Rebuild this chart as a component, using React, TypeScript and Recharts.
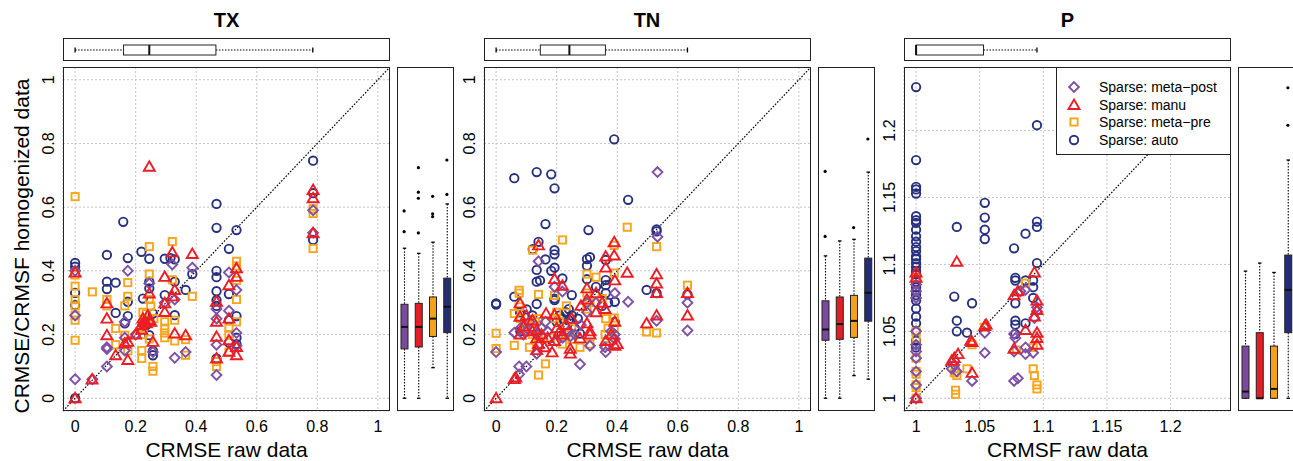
import React from "react";
import {
  ScatterChart,
  Scatter,
  XAxis,
  YAxis,
  CartesianGrid,
  ReferenceLine,
  ComposedChart,
  Bar,
  Legend,
} from "recharts";

type Pt = [number, number];

// ---------- TX ----------
const txAuto: Pt[] = [
  [0, 0.425], [0, 0.413], [0, 0.331], [0, 0.292], [0, 0], [0.105, 0.45], [0.105, 0.366], [0.105, 0.343],
  [0.134, 0.363], [0.134, 0.268], [0.159, 0.554], [0.174, 0.44], [0.174, 0.303], [0.174, 0.258], [0.164, 0.235],
  [0.219, 0.46], [0.224, 0.313], [0.245, 0.438], [0.245, 0.366], [0.245, 0.345], [0.245, 0.198], [0.257, 0.266],
  [0.257, 0.149], [0.257, 0.135], [0.296, 0.438], [0.296, 0.324], [0.329, 0.436], [0.329, 0.366], [0.329, 0.261],
  [0.365, 0.34], [0.387, 0.39], [0.467, 0.61], [0.467, 0.535], [0.467, 0.4], [0.467, 0.38], [0.467, 0.336],
  [0.467, 0.308], [0.467, 0.29], [0.467, 0.125], [0.508, 0.469], [0.508, 0.327], [0.508, 0.245], [0.508, 0.175],
  [0.533, 0.528], [0.533, 0.258], [0.533, 0.19], [0.533, 0.17], [0.786, 0.746], [0.786, 0.644], [0.786, 0.497],
  [0.315, 0.44], [0.235, 0.23],
];
const txPre: Pt[] = [
  [0, 0.633], [0, 0.387], [0, 0.352], [0, 0.31], [0, 0.29], [0, 0.26], [0, 0.245], [0, 0.182], [0.057, 0.334],
  [0.105, 0.31], [0.105, 0.29], [0.134, 0.219], [0.134, 0.168], [0.164, 0.29], [0.164, 0.198], [0.174, 0.363],
  [0.174, 0.32], [0.174, 0.149], [0.22, 0.15], [0.22, 0.125], [0.224, 0.27], [0.224, 0.2], [0.224, 0.22],
  [0.245, 0.476], [0.245, 0.39], [0.245, 0.31], [0.245, 0.186], [0.235, 0.265], [0.257, 0.1], [0.257, 0.085],
  [0.296, 0.24], [0.296, 0.22], [0.296, 0.19], [0.296, 0.205], [0.321, 0.492], [0.321, 0.372], [0.329, 0.245],
  [0.329, 0.18], [0.365, 0.184], [0.365, 0.135], [0.387, 0.32], [0.467, 0.1], [0.467, 0.115], [0.508, 0.22],
  [0.508, 0.145], [0.508, 0.2], [0.533, 0.43], [0.533, 0.415], [0.533, 0.37], [0.533, 0.31], [0.533, 0.24],
  [0.786, 0.595], [0.786, 0.58], [0.786, 0.47], [0.23, 0.24], [0.25, 0.29], [0.26, 0.25],
];
const txPost: Pt[] = [
  [0, 0.06], [0, 0.26], [0, 0.4], [0.057, 0.06], [0.105, 0.1], [0.105, 0.16], [0.105, 0.155], [0.174, 0.4],
  [0.164, 0.24], [0.164, 0.19], [0.164, 0.15], [0.245, 0.36], [0.245, 0.24], [0.257, 0.145], [0.224, 0.23],
  [0.329, 0.127], [0.329, 0.31], [0.321, 0.42], [0.365, 0.145], [0.387, 0.41], [0.467, 0.073], [0.467, 0.168],
  [0.467, 0.25], [0.467, 0.28], [0.508, 0.275], [0.508, 0.395], [0.533, 0.34], [0.533, 0.205], [0.533, 0.165],
  [0.786, 0.59], [0.786, 0.52], [0.296, 0.3], [0.2, 0.2],
];
const txManu: Pt[] = [
  [0, 0], [0, 0.395], [0.056, 0.059], [0.105, 0.298], [0.105, 0.25], [0.105, 0.198], [0.134, 0.135],
  [0.164, 0.172], [0.174, 0.12], [0.174, 0.177], [0.2, 0.2], [0.219, 0.23], [0.224, 0.25], [0.235, 0.235],
  [0.245, 0.727], [0.245, 0.329], [0.245, 0.245], [0.257, 0.177], [0.296, 0.381], [0.296, 0.298], [0.296, 0.271],
  [0.321, 0.458], [0.321, 0.32], [0.329, 0.34], [0.329, 0.203], [0.365, 0.198], [0.387, 0.453], [0.467, 0.303],
  [0.467, 0.24], [0.467, 0.193], [0.467, 0.125], [0.508, 0.355], [0.508, 0.182], [0.508, 0.146], [0.508, 0.25],
  [0.533, 0.408], [0.533, 0.381], [0.533, 0.161], [0.533, 0.135], [0.786, 0.654], [0.786, 0.628], [0.786, 0.518],
  [0.22, 0.215], [0.23, 0.24], [0.24, 0.26], [0.25, 0.24],
];
// raw box: lo, q1, median, q3, hi
const txRawBox = [0, 0.16, 0.245, 0.465, 0.785];
// homogenized boxes (meta-post, manu, meta-pre, auto)
const txBoxes = [
  [0, 0.155, 0.224, 0.295, 0.471],
  [0, 0.161, 0.224, 0.298, 0.455],
  [0.096, 0.194, 0.25, 0.318, 0.49],
  [0, 0.206, 0.287, 0.377, 0.61],
];
const txOutliers: Pt[] = [
  [1, 0.588], [1, 0.523], [2, 0.724], [2, 0.647], [2, 0.628], [2, 0.519],
  [3, 0.634], [3, 0.579], [3, 0.57], [4, 0.748], [4, 0.64],
];

// ---------- TN ----------
const tnAuto: Pt[] = [
  [0, 0.298], [0, 0.294], [0.06, 0.691], [0.06, 0.319], [0.079, 0.27], [0.101, 0.279], [0.121, 0.468],
  [0.134, 0.71], [0.14, 0.491], [0.134, 0.403], [0.134, 0.366], [0.145, 0.37], [0.134, 0.296], [0.163, 0.547],
  [0.163, 0.436], [0.182, 0.703], [0.193, 0.659], [0.193, 0.465], [0.193, 0.452], [0.193, 0.41], [0.182, 0.4],
  [0.193, 0.313], [0.193, 0.308], [0.219, 0.376], [0.25, 0.324], [0.24, 0.28], [0.24, 0.245], [0.277, 0.203],
  [0.305, 0.528], [0.3, 0.437], [0.31, 0.443], [0.3, 0.416], [0.3, 0.374], [0.33, 0.35], [0.362, 0.434],
  [0.362, 0.371], [0.362, 0.355], [0.362, 0.33], [0.392, 0.303], [0.392, 0.24], [0.39, 0.813], [0.436, 0.623],
  [0.497, 0.34], [0.53, 0.53], [0.53, 0.524], [0.53, 0.33], [0.632, 0.326], [0.08, 0.21], [0.21, 0.26],
  [0.23, 0.27], [0.1, 0.22], [0.12, 0.26], [0.2, 0.24], [0.22, 0.25], [0.25, 0.26], [0.27, 0.25], [0.26, 0.22],
  [0.35, 0.29], [0.37, 0.3],
];
const tnPre: Pt[] = [
  [0, 0.204], [0, 0.156], [0.06, 0.166], [0.06, 0.266], [0.076, 0.339], [0.076, 0.33], [0.076, 0.287],
  [0.121, 0.465], [0.14, 0.326], [0.14, 0.073], [0.14, 0.25], [0.163, 0.108], [0.193, 0.323], [0.193, 0.25],
  [0.219, 0.497], [0.232, 0.29], [0.219, 0.17], [0.277, 0.16], [0.3, 0.39], [0.3, 0.33], [0.31, 0.17],
  [0.33, 0.38], [0.35, 0.313], [0.362, 0.25], [0.362, 0.165], [0.39, 0.48], [0.39, 0.393], [0.39, 0.252],
  [0.433, 0.537], [0.53, 0.476], [0.53, 0.205], [0.497, 0.208], [0.632, 0.355], [0.1, 0.23], [0.18, 0.19],
  [0.25, 0.22], [0.11, 0.16], [0.08, 0.25], [0.09, 0.22], [0.12, 0.2], [0.13, 0.24], [0.2, 0.27], [0.21, 0.24],
  [0.23, 0.2], [0.25, 0.185], [0.3, 0.28], [0.31, 0.3], [0.36, 0.2], [0.37, 0.22], [0.39, 0.22], [0.14, 0.19],
];
const tnPost: Pt[] = [
  [0, 0.145], [0.06, 0.206], [0.076, 0.1], [0.1, 0.1], [0.076, 0.075], [0.14, 0.43], [0.134, 0.2], [0.134, 0.14],
  [0.163, 0.24], [0.193, 0.35], [0.219, 0.335], [0.245, 0.195], [0.277, 0.107], [0.3, 0.27], [0.3, 0.3],
  [0.31, 0.165], [0.33, 0.3], [0.362, 0.145], [0.392, 0.33], [0.392, 0.2], [0.392, 0.186], [0.436, 0.303],
  [0.533, 0.71], [0.533, 0.507], [0.53, 0.243], [0.632, 0.3], [0.632, 0.213], [0.08, 0.22], [0.2, 0.18],
  [0.26, 0.2], [0.09, 0.2], [0.1, 0.21], [0.15, 0.22], [0.17, 0.21], [0.22, 0.19], [0.24, 0.21], [0.28, 0.23],
  [0.36, 0.16], [0.38, 0.21], [0.11, 0.24],
];
const tnManu: Pt[] = [
  [0, 0], [0.06, 0.06], [0.079, 0.298], [0.079, 0.256], [0.079, 0.2], [0.1, 0.26], [0.14, 0.48], [0.134, 0.214],
  [0.134, 0.188], [0.134, 0.151], [0.165, 0.266], [0.193, 0.374], [0.193, 0.262], [0.193, 0.18], [0.219, 0.353],
  [0.185, 0.144], [0.245, 0.155], [0.245, 0.14], [0.277, 0.188], [0.3, 0.235], [0.31, 0.21], [0.31, 0.2],
  [0.3, 0.345], [0.33, 0.27], [0.362, 0.445], [0.362, 0.41], [0.35, 0.3], [0.362, 0.18], [0.39, 0.49],
  [0.39, 0.448], [0.392, 0.37], [0.392, 0.24], [0.392, 0.165], [0.433, 0.394], [0.497, 0.235], [0.53, 0.389],
  [0.53, 0.36], [0.53, 0.33], [0.53, 0.26], [0.632, 0.33], [0.632, 0.26], [0.21, 0.21], [0.23, 0.23],
  [0.16, 0.16], [0.12, 0.245], [0.33, 0.33], [0.065, 0.065], [0.09, 0.225], [0.12, 0.21], [0.15, 0.2],
  [0.17, 0.19], [0.2, 0.22], [0.22, 0.2], [0.25, 0.25], [0.28, 0.29], [0.3, 0.31], [0.36, 0.28], [0.38, 0.2],
  [0.4, 0.17], [0.14, 0.17],
];
const tnRawBox = [0, 0.146, 0.242, 0.361, 0.632];
const tnBoxes = [
  [0, 0.182, 0.216, 0.306, 0.447],
  [0, 0.185, 0.233, 0.318, 0.494],
  [0.071, 0.191, 0.243, 0.323, 0.499],
  [0.06, 0.242, 0.331, 0.44, 0.71],
];
const tnOutliers: Pt[] = [[1, 0.508], [1, 0.712], [3, 0.536], [4, 0.814]];

// ---------- P ----------
const pAuto: Pt[] = [
  [1, 1.2325], [1, 1.178], [1, 1.158], [1, 1.156], [1, 1.153], [1, 1.136], [1, 1.133], [1, 1.131], [1, 1.126],
  [1, 1.121], [1, 1.117], [1, 1.113], [1, 1.11], [1, 1.106], [1, 1.104], [1, 1.101], [1, 1.098], [1, 1.095],
  [1, 1.093], [1, 1.09], [1, 1.087], [1, 1.083], [1, 1.08], [1, 1.077], [1, 1.073], [1, 1.067], [1, 1.061],
  [1, 1.056], [1, 1.05], [1, 1.043], [1, 1.038],
  [1.032, 1.128], [1.03, 1.076], [1.032, 1.058], [1.032, 1.05], [1.044, 1.071], [1.04, 1.049], [1.054, 1.146],
  [1.054, 1.135], [1.054, 1.126], [1.054, 1.119], [1.077, 1.112], [1.086, 1.123], [1.095, 1.204], [1.095, 1.132],
  [1.095, 1.128], [1.095, 1.101], [1.078, 1.09], [1.078, 1.088], [1.078, 1.071], [1.078, 1.058], [1.078, 1.055],
  [1.078, 1.048], [1.086, 1.088], [1.086, 1.056], [1.092, 1.088], [1.092, 1.083], [1.092, 1.075],
];
const pPre: Pt[] = [
  [1, 1.09], [1, 1.05], [1, 1.045], [1, 1.03], [1, 1.02], [1, 1.018], [1, 1.01], [1, 1.008], [1, 1.0],
  [1.03, 1.019], [1.032, 1.017], [1.031, 1.022], [1.031, 1.006], [1.031, 1.003], [1.04, 1.022], [1.044, 1.04],
  [1.079, 1.036], [1.086, 1.086], [1.092, 1.038], [1.092, 1.022], [1.093, 1.017], [1.095, 1.01], [1.095, 1.007],
  [1.054, 1.053],
];
const pPost: Pt[] = [
  [1, 1.085], [1, 1.08], [1, 1.075], [1, 1.05], [1, 1.04], [1, 1.035], [1, 1.03], [1, 1.02], [1, 1.01], [1, 1.0],
  [1.028, 1.022], [1.03, 1.025], [1.032, 1.02], [1.044, 1.013], [1.054, 1.049], [1.054, 1.034], [1.077, 1.013],
  [1.08, 1.015], [1.077, 1.035], [1.077, 1.048], [1.078, 1.045], [1.082, 1.08], [1.086, 1.081], [1.086, 1.038],
  [1.086, 1.033], [1.095, 1.065], [1.095, 1.068], [1.093, 1.06], [1.092, 1.034],
];
const pManu: Pt[] = [
  [1, 1.0], [1, 1.094], [1, 1.09], [1.032, 1.102], [1.028, 1.028], [1.03, 1.03], [1.033, 1.033], [1.043, 1.043],
  [1.044, 1.042], [1.054, 1.054], [1.055, 1.055], [1.044, 1.019], [1.077, 1.077], [1.08, 1.08], [1.077, 1.037],
  [1.086, 1.051], [1.093, 1.094], [1.095, 1.073], [1.095, 1.066], [1.093, 1.061], [1.095, 1.049], [1.095, 1.045],
  [1.095, 1.04],
];
const pRawBox = [1, 1, 1, 1.053, 1.095];
const pBoxes = [
  [1, 1, 1.005, 1.039, 1.095],
  [1, 1, 1.0, 1.049, 1.101],
  [1, 1, 1.007, 1.039, 1.094],
  [1, 1.049, 1.081, 1.107, 1.178],
];
const pOutliers: Pt[] = [[4, 1.204], [4, 1.232]];

const unitTicks = [0, 0.2, 0.4, 0.6, 0.8, 1];
const pTicks = [1, 1.05, 1.1, 1.15, 1.2];

const FONT = "'Liberation Sans', Arial, Helvetica, sans-serif";
const COLORS = { post: "#7e50a6", manu: "#ec1d25", pre: "#f7a51c", auto: "#27307f" };
const BOX_FILLS = ["#7b4a9f", "#e21f26", "#f6a11a", "#252c77"];

const SERIES = [
  { key: "auto", name: "Sparse: auto", color: COLORS.auto, kind: "circle" },
  { key: "pre", name: "Sparse: meta\u2212pre", color: COLORS.pre, kind: "square" },
  { key: "post", name: "Sparse: meta\u2212post", color: COLORS.post, kind: "diamond" },
  { key: "manu", name: "Sparse: manu", color: COLORS.manu, kind: "triangle" },
];
const LEGEND_ORDER = ["post", "manu", "pre", "auto"];

const PLOT_TOP = 67;
const PLOT_W = 327;
const PLOT_H = 344;
const XH = 50;

const Marker = ({ kind, cx, cy, color }: any) => {
  if (cx == null || cy == null) return null;
  const sw = 1.9;
  if (kind === "circle") return <circle cx={cx} cy={cy} r={4.2} fill="none" stroke={color} strokeWidth={sw} />;
  if (kind === "square")
    return <rect x={cx - 3.6} y={cy - 3.6} width={7.2} height={7.2} fill="none" stroke={color} strokeWidth={sw} />;
  if (kind === "diamond") {
    const r = 4.9;
    return (
      <path d={`M${cx},${cy - r}L${cx + r},${cy}L${cx},${cy + r}L${cx - r},${cy}Z`} fill="none" stroke={color} strokeWidth={sw} />
    );
  }
  return (
    <path d={`M${cx},${cy - 5.4}L${cx + 5.5},${cy + 4}L${cx - 5.5},${cy + 4}Z`} fill="none" stroke={color} strokeWidth={sw} />
  );
};

const fmt = (v: number) => String(Number(v.toFixed(2)));

// vertical box (right panels), drawn from the bar that spans q1..q3
const VBox = (props: any) => {
  const { x, y, width, height, payload } = props;
  const [lo, q1, med, q3, hi] = payload.stats;
  const top = Math.min(y, y + height);
  const h = Math.abs(height);
  const ppu = h / (q3 - q1);
  const py = (v: number) => top + (q3 - v) * ppu;
  const cx = x + width / 2;
  const cap = width / 4;
  return (
    <g>
      <line x1={cx} x2={cx} y1={py(hi)} y2={top} stroke="#000" strokeWidth={1.1} strokeDasharray="1.5 1.5" />
      <line x1={cx} x2={cx} y1={top + h} y2={py(lo)} stroke="#000" strokeWidth={1.1} strokeDasharray="1.5 1.5" />
      <line x1={cx - cap} x2={cx + cap} y1={py(hi)} y2={py(hi)} stroke="#000" strokeWidth={1.3} />
      <line x1={cx - cap} x2={cx + cap} y1={py(lo)} y2={py(lo)} stroke="#000" strokeWidth={1.3} />
      <rect x={x} y={top} width={width} height={h} fill={payload.color} stroke="#222" strokeWidth={1} />
      <line x1={x} x2={x + width} y1={py(med)} y2={py(med)} stroke="#111" strokeWidth={2} />
    </g>
  );
};

// horizontal box (top panels)
const HBox = (props: any) => {
  const { x, y, width, height, payload } = props;
  const [lo, q1, med, q3, hi] = payload.stats;
  const left = Math.min(x, x + width);
  const w = Math.abs(width);
  const ppu = w / (q3 - q1);
  const px = (v: number) => left + (v - q1) * ppu;
  const cy = y + height / 2;
  const cap = height / 4;
  return (
    <g>
      <line x1={px(lo)} x2={left} y1={cy} y2={cy} stroke="#000" strokeWidth={1.1} strokeDasharray="1.5 1.5" />
      <line x1={left + w} x2={px(hi)} y1={cy} y2={cy} stroke="#000" strokeWidth={1.1} strokeDasharray="1.5 1.5" />
      <line x1={px(lo)} x2={px(lo)} y1={cy - cap} y2={cy + cap} stroke="#000" strokeWidth={1.3} />
      <line x1={px(hi)} x2={px(hi)} y1={cy - cap} y2={cy + cap} stroke="#000" strokeWidth={1.3} />
      <rect x={left} y={y} width={w} height={height} fill="#fff" stroke="#222" strokeWidth={1} />
      <line x1={px(med)} x2={px(med)} y1={y} y2={y + height} stroke="#111" strokeWidth={2} />
    </g>
  );
};

const frame = (left: number, top: number, width: number, height: number) => ({
  position: "absolute" as const,
  left,
  top,
  width,
  height,
  border: "1.5px solid #222",
  boxSizing: "border-box" as const,
  pointerEvents: "none" as const,
});

const LegendBox = () => (
  <div
    style={{
      width: 175,
      height: 88,
      border: "1.5px solid #222",
      boxSizing: "border-box",
      background: "#fff",
      position: "relative",
      fontFamily: FONT,
    }}
  >
    {LEGEND_ORDER.map((k, i) => {
      const s = SERIES.find((d) => d.key === k)!;
      return (
        <div key={k} style={{ position: "absolute", left: 0, top: 10 + i * 17.5, height: 18, width: 175 }}>
          <svg width={30} height={18} style={{ position: "absolute", left: 2, top: 0 }}>
            <Marker kind={s.kind} cx={15} cy={9} color={s.color} />
          </svg>
          <span style={{ position: "absolute", left: 42, top: 0, fontSize: 14, lineHeight: "18px", color: "#000", whiteSpace: "nowrap" }}>
            {s.name}
          </span>
        </div>
      );
    })}
  </div>
);

interface PanelProps {
  left: number;
  title: string;
  dom: [number, number];
  ticks: number[];
  data: Record<string, Pt[]>;
  rawBox: number[];
  boxes: number[][];
  outliers: Pt[];
  xTitle: string;
  yTitle?: string;
  legend?: boolean;
}

const Panel = ({ left, title, dom, ticks, data, rawBox, boxes, outliers, xTitle, yTitle, legend }: PanelProps) => {
  const yw = yTitle ? 60 : 45;
  const boxData = boxes.map((b, i) => ({ pos: i + 1, box: [b[1], b[3]], stats: b, color: BOX_FILLS[i] }));
  const outData = outliers.map(([pos, v]) => ({ pos, v }));
  const rawData = [{ name: "raw", box: [rawBox[1], rawBox[3]], stats: rawBox }];
  return (
    <>
      <div
        style={{
          position: "absolute",
          left,
          width: PLOT_W,
          top: 10,
          textAlign: "center",
          fontWeight: "bold",
          fontSize: 20,
          lineHeight: "20px",
          fontFamily: FONT,
        }}
      >
        {title}
      </div>

      {/* raw-data box above */}
      <div style={{ position: "absolute", left, top: 38 }}>
        <ComposedChart width={PLOT_W} height={23} data={rawData} layout="vertical" margin={{ top: 0, right: 0, bottom: 0, left: 0 }}>
          <XAxis type="number" domain={dom} allowDataOverflow hide />
          <YAxis type="category" dataKey="name" hide />
          <Bar dataKey="box" barSize={10} shape={HBox} isAnimationActive={false} />
        </ComposedChart>
      </div>
      <div style={frame(left, 38, PLOT_W, 23)} />

      {/* scatter */}
      <div style={{ position: "absolute", left: left - yw, top: PLOT_TOP }}>
        <ScatterChart width={yw + PLOT_W} height={PLOT_H + XH} margin={{ top: 0, right: 0, bottom: 0, left: 0 }}>
          <CartesianGrid stroke="#c4c4c4" strokeDasharray="2 2" strokeWidth={1} />
          <XAxis
            type="number"
            dataKey="x"
            domain={dom}
            ticks={ticks}
            allowDataOverflow
            axisLine={false}
            tickLine={false}
            height={XH}
            interval={0}
            tick={(p: any) => (
              <text x={p.x} y={p.y + 12.5} textAnchor="middle" fontSize={16} fontFamily={FONT} fill="#000">
                {fmt(p.payload.value)}
              </text>
            )}
            label={{
              content: (p: any) => {
                const vb = p.viewBox;
                return (
                  <text x={vb.x + vb.width / 2} y={vb.y + 45.5} textAnchor="middle" fontSize={21} fontFamily={FONT} fill="#000">
                    {xTitle}
                  </text>
                );
              },
            }}
          />
          <YAxis
            type="number"
            dataKey="y"
            domain={dom}
            ticks={ticks}
            allowDataOverflow
            axisLine={false}
            tickLine={false}
            width={yw}
            interval={0}
            tick={(p: any) => (
              <text
                transform={`translate(${yw - 9},${p.y}) rotate(-90)`}
                textAnchor="middle"
                fontSize={16}
                fontFamily={FONT}
                fill="#000"
              >
                {fmt(p.payload.value)}
              </text>
            )}
            label={
              yTitle
                ? {
                    content: () => (
                      <text
                        transform={`translate(25.5,${246 - PLOT_TOP}) rotate(-90)`}
                        textAnchor="middle"
                        fontSize={21}
                        fontFamily={FONT}
                        fill="#000"
                      >
                        {yTitle}
                      </text>
                    ),
                  }
                : undefined
            }
          />
          <ReferenceLine
            segment={[
              { x: dom[0], y: dom[0] },
              { x: dom[1], y: dom[1] },
            ]}
            stroke="#000"
            strokeWidth={1.2}
            strokeDasharray="1.6 1.6"
          />
          {SERIES.map((s) => (
            <Scatter
              key={s.key}
              name={s.name}
              data={data[s.key].map(([x, y]) => ({ x, y }))}
              isAnimationActive={false}
              shape={(p: any) => <Marker kind={s.kind} cx={p.cx} cy={p.cy} color={s.color} />}
            />
          ))}
          {legend && (
            <Legend
              layout="vertical"
              align="center"
              verticalAlign="middle"
              content={() => <LegendBox />}
              wrapperStyle={{ left: yw + PLOT_W - 175, top: 0, width: 175, height: 88 }}
            />
          )}
        </ScatterChart>
      </div>
      <div style={frame(left, PLOT_TOP, PLOT_W, PLOT_H)} />

      {/* homogenized boxes to the right */}
      <div style={{ position: "absolute", left: left + 334, top: PLOT_TOP }}>
        <ComposedChart width={57} height={PLOT_H} data={boxData} margin={{ top: 0, right: 0, bottom: 0, left: 0 }}>
          <XAxis type="number" dataKey="pos" domain={[0.5, 4.5]} allowDataOverflow hide />
          <YAxis type="number" domain={dom} allowDataOverflow hide />
          <Bar dataKey="box" barSize={7} shape={VBox} isAnimationActive={false} />
          <Scatter
            data={outData}
            dataKey="v"
            isAnimationActive={false}
            shape={(p: any) => (p.cx == null ? null : <circle cx={p.cx} cy={p.cy} r={1.6} fill="#000" />)}
          />
        </ComposedChart>
      </div>
      <div style={frame(left + 334, PLOT_TOP, 57, PLOT_H)} />
    </>
  );
};

const PANEL_LEFT = [63, 483.5, 904];

export default function App() {
  return (
    <div
      style={{
        position: "absolute",
        left: 0,
        top: 0,
        width: 1293,
        height: 461,
        background: "#fff",
        overflow: "hidden",
        fontFamily: FONT,
      }}
    >
      <Panel
        left={PANEL_LEFT[0]}
        title="TX"
        dom={[-0.04, 1.04]}
        ticks={unitTicks}
        data={{ auto: txAuto, pre: txPre, post: txPost, manu: txManu }}
        rawBox={txRawBox}
        boxes={txBoxes}
        outliers={txOutliers}
        xTitle="CRMSE raw data"
        yTitle="CRMSE/CRMSF homogenized data"
      />
      <Panel
        left={PANEL_LEFT[1]}
        title="TN"
        dom={[-0.04, 1.04]}
        ticks={unitTicks}
        data={{ auto: tnAuto, pre: tnPre, post: tnPost, manu: tnManu }}
        rawBox={tnRawBox}
        boxes={tnBoxes}
        outliers={tnOutliers}
        xTitle="CRMSE raw data"
      />
      <Panel
        left={PANEL_LEFT[2]}
        title="P"
        dom={[0.9905, 1.2475]}
        ticks={pTicks}
        data={{ auto: pAuto, pre: pPre, post: pPost, manu: pManu }}
        rawBox={pRawBox}
        boxes={pBoxes}
        outliers={pOutliers}
        xTitle="CRMSF raw data"
        legend
      />
    </div>
  );
}
